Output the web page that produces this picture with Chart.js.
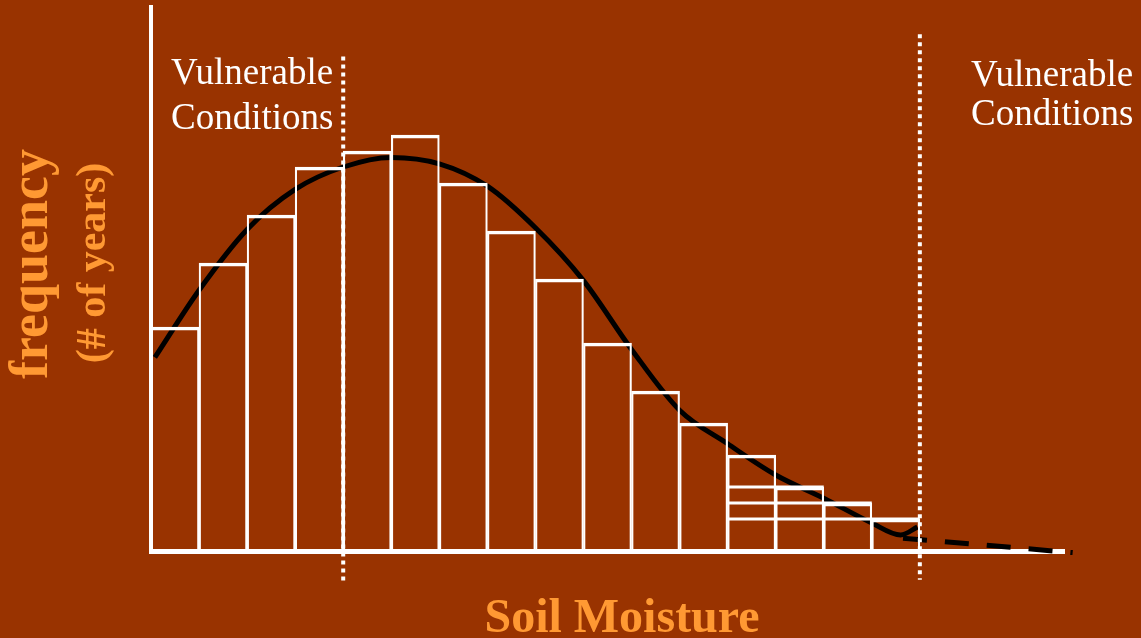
<!DOCTYPE html>
<html>
<head>
<meta charset="utf-8">
<script src="https://cdn.jsdelivr.net/npm/chart.js@4/dist/chart.umd.min.js"></script>
<style>
  html, body { margin: 0; padding: 0; background: #993300; }
  canvas { display: block; }
</style>
</head>
<body>
<canvas id="soil-chart" width="1141" height="638"></canvas>
<script>
// --- histogram of soil moisture, with fitted curve ---

// years per soil-moisture bin (16 bins, left to right)
const binCounts = [14, 18, 21, 24, 25, 26, 23, 20, 17, 13, 10, 8, 6, 4, 3, 2];

// extra top lines over the last bins: level, from bin edge, to bin edge
const overlapLevels = [4, 3, 2];
const overlapFrom = 12;
const overlapTo = [14, 15, 16];

// fitted distribution curve
const curveX = [0.08, 1, 2, 3, 4, 5, 6, 7, 8, 9, 10, 11, 12, 13, 14, 15, 15.6, 15.95];
const curveY = [12.1, 16.3, 20.1, 22.6, 24.0, 24.6, 24.2, 22.8, 20.2, 16.9, 12.6, 8.8, 6.7, 4.75, 3.3, 1.75, 1.0, 1.5];

// dashed tail beyond the record
const tailX = [15.65, 19.18];
const tailY = [0.8, -0.1];

// dotted thresholds of vulnerable conditions
const thresholdX = [4, 16];
const thresholdTop = [30.9, 32.3];
const thresholdBottom = [-2.1, -1.8];

const xMax = 19;
const yMax = 34;

const WHITE = '#ffffff';
const ORANGE = '#ff9933';

const datasets = [];

datasets.push({
    type: 'bar',
    data: binCounts.map((v, i) => ({ x: i + 0.5, y: v })),
    backgroundColor: 'transparent',
    borderColor: WHITE,
    borderWidth: { top: 3, left: 1.5, right: 1.5, bottom: 0 },
    borderSkipped: false,
    barPercentage: 1,
    categoryPercentage: 1,
    order: 1
});

overlapLevels.forEach((lvl, i) => {
    datasets.push({
        type: 'line',
        data: [{ x: overlapFrom, y: lvl }, { x: overlapTo[i], y: lvl }],
        borderColor: WHITE,
        borderWidth: 3,
        pointRadius: 0,
        order: 1
    });
});

thresholdX.forEach((x, i) => {
    datasets.push({
        type: 'line',
        data: [{ x: x, y: thresholdTop[i] }, { x: x, y: thresholdBottom[i] }],
        borderColor: WHITE,
        borderWidth: 4,
        borderDash: [4, 4],
        borderCapStyle: 'butt',
        pointRadius: 0,
        clip: false,
        order: 0
    });
});

datasets.push({
    type: 'line',
    data: curveX.map((x, i) => ({ x: x, y: curveY[i] })),
    borderColor: '#000000',
    borderWidth: 5,
    cubicInterpolationMode: 'monotone',
    pointRadius: 0,
    order: 5
});

datasets.push({
    type: 'line',
    data: tailX.map((x, i) => ({ x: x, y: tailY[i] })),
    borderColor: '#000000',
    borderWidth: 5,
    borderDash: [24, 18],
    borderCapStyle: 'butt',
    pointRadius: 0,
    clip: false,
    order: 5
});

// labels drawn straight on the canvas
const labelPlugin = {
    id: 'labels',
    afterDraw(chart) {
        const ctx = chart.ctx;
        ctx.save();
        ctx.fillStyle = WHITE;
        ctx.textAlign = 'left';
        ctx.textBaseline = 'alphabetic';
        ctx.font = '37px "Liberation Serif", "Times New Roman", serif';
        ctx.fillText('Vulnerable', 171, 84);
        ctx.fillText('Conditions', 171, 129);
        ctx.fillText('Vulnerable', 971, 86);
        ctx.fillText('Conditions', 971, 125);

        ctx.fillStyle = ORANGE;
        ctx.textAlign = 'center';
        ctx.font = 'bold 48px "Liberation Serif", "Times New Roman", serif';
        ctx.fillText('Soil Moisture', 622, 632);

        ctx.save();
        ctx.translate(47, 264);
        ctx.rotate(-Math.PI / 2);
        ctx.font = 'bold 54px "Liberation Serif", "Times New Roman", serif';
        ctx.fillText('frequency', 0, 0);
        ctx.restore();

        ctx.save();
        ctx.translate(105, 263);
        ctx.rotate(-Math.PI / 2);
        ctx.font = 'bold 42px "Liberation Serif", "Times New Roman", serif';
        ctx.fillText('(# of years)', 0, 0);
        ctx.restore();
        ctx.restore();
    }
};

new Chart(document.getElementById('soil-chart').getContext('2d'), {
    data: { datasets: datasets },
    options: {
        responsive: false,
        animation: false,
        layout: { padding: { left: 151, right: 77, top: 7, bottom: 87 } },
        scales: {
            x: {
                type: 'linear',
                min: 0,
                max: xMax,
                offset: false,
                ticks: { display: false },
                grid: { drawOnChartArea: false, drawTicks: false },
                border: { display: true, color: WHITE, width: 5 }
            },
            y: {
                type: 'linear',
                min: 0,
                max: yMax,
                ticks: { display: false },
                grid: { drawOnChartArea: false, drawTicks: false },
                border: { display: true, color: WHITE, width: 4 }
            }
        },
        plugins: {
            legend: { display: false },
            tooltip: { enabled: false }
        }
    },
    plugins: [labelPlugin]
});
</script>
</body>
</html>
